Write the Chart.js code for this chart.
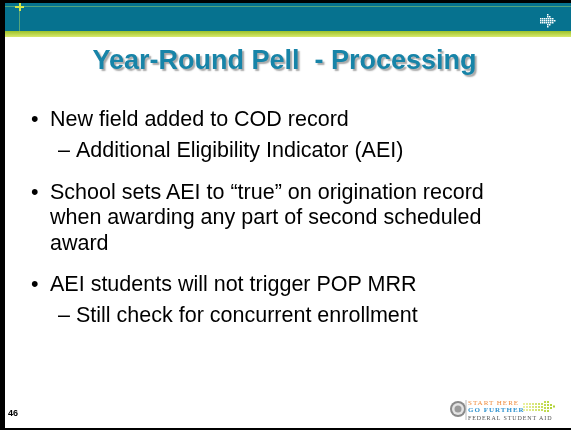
<!DOCTYPE html>
<html>
<head>
<meta charset="utf-8">
<script src="https://cdn.jsdelivr.net/npm/chart.js@4.4.0/dist/chart.umd.min.js"></script>
<style>
html, body { margin: 0; padding: 0; background: #fff; }
#slide { position: relative; width: 571px; height: 430px; overflow: hidden; font-family: "Liberation Sans", Arial, sans-serif; }
#slide canvas { position: absolute; left: 0; top: 0; }
.txt { position: absolute; white-space: pre; color: #000; }
.logo { font-family: "Liberation Serif", "DejaVu Serif", serif; letter-spacing: 1px; }
</style>
</head>
<body>
<div id="slide"><canvas id="slideChart" width="571" height="430"></canvas></div>
<script>
var titleText = "Year-Round Pell  - Processing";
var points = [
    { text: ["New field added to COD record"], subs: ["Additional Eligibility Indicator (AEI)"] },
    { text: ["School sets AEI to \u201ctrue\u201d on origination record", "when awarding any part of second scheduled", "award"], subs: [] },
    { text: ["AEI students will not trigger POP MRR"], subs: ["Still check for concurrent enrollment"] }
];
var pageNumber = "46";
var logoLines = ["START HERE", "GO FURTHER", "FEDERAL STUDENT AID"];

// layout (pixels)
var bodySize = 21.5;
var lineBase = [127, 158.5, 200, 225.5, 251, 292, 323];
var bulletX = 31, textX = 50, dashX = 58, subX = 76;

var slide = document.getElementById("slide");

// places a line of text so that its baseline sits at `base`
function addText(str, x, base, size, css) {
    var d = document.createElement("div");
    d.className = "txt";
    d.textContent = str;
    d.style.left = x + "px";
    d.style.fontSize = size + "px";
    d.style.lineHeight = size + "px";
    d.style.top = (base - 0.8465 * size) + "px";
    if (css) {
        for (var k in css) d.style[k] = css[k];
    }
    slide.appendChild(d);
    return d;
}

var n = 0;
points.forEach(function (p) {
    p.text.forEach(function (line, i) {
        if (i === 0) addText("\u2022", bulletX, lineBase[n], bodySize);
        addText(line, textX, lineBase[n], bodySize);
        n++;
    });
    p.subs.forEach(function (line) {
        addText("\u2013", dashX, lineBase[n], bodySize);
        addText(line, subX, lineBase[n], bodySize);
        n++;
    });
});

// page number
addText(pageNumber, 8, 417, 9, { fontWeight: "bold" });

// logo words
addText(logoLines[0], 468, 406, 7, { color: "#ef8a3a", fontFamily: "'Liberation Serif', serif", letterSpacing: "1px" });
addText(logoLines[1], 468, 413, 7, { color: "#2f93cf", fontWeight: "bold", fontFamily: "'Liberation Serif', serif", letterSpacing: "1px" });
addText(logoLines[2], 468, 420, 6, { color: "#555", fontFamily: "'Liberation Serif', serif", letterSpacing: "0.9px" });

var slideFrame = {
    id: "slideFrame",
    beforeDraw: function (chart) {
        var ctx = chart.ctx, w = chart.width, h = chart.height;
        ctx.save();
        ctx.fillStyle = "#06728f";
        ctx.fillRect(0, 0, w, 32);
        var g = ctx.createLinearGradient(0, 31, 0, 37);
        g.addColorStop(0, "#9cc22a");
        g.addColorStop(1, "#d9e96c");
        ctx.fillStyle = g;
        ctx.fillRect(0, 31, w, 6);

        // thin rules in the header
        ctx.fillStyle = "rgba(150,205,110,0.55)";
        ctx.fillRect(0, 6, w, 1);
        ctx.fillRect(19, 3, 1, 29);
        ctx.fillStyle = "#d4e64c";
        ctx.fillRect(15, 6, 9, 2);
        ctx.fillRect(19, 3, 2, 8);

        // dotted arrow icon
        ctx.fillStyle = "#fff";
        for (var yy = 14; yy <= 26; yy += 2) {
            var half = Math.abs(yy - 20);
            var x0 = 540, x1 = 555 - half;
            if (half > 3) x0 = 547;
            for (var xx = x0; xx < x1; xx += 2) ctx.fillRect(xx, yy, 1.5, 1.5);
        }

        // slide frame
        ctx.fillStyle = "#000";
        ctx.fillRect(0, 0, w, 3);
        ctx.fillRect(0, 0, 5, h);
        ctx.fillRect(0, h - 2, w, 2);
        ctx.restore();

        // title shadow
        ctx.shadowColor = "rgba(0,0,0,0.35)";
        ctx.shadowOffsetX = 2;
        ctx.shadowOffsetY = 2;
        ctx.shadowBlur = 1.5;
    },
    afterDraw: function (chart) {
        var ctx = chart.ctx;
        ctx.shadowColor = "transparent";
        ctx.shadowOffsetX = 0;
        ctx.shadowOffsetY = 0;
        ctx.shadowBlur = 0;
        ctx.save();
        // seal
        ctx.beginPath();
        ctx.arc(458, 409, 8, 0, Math.PI * 2);
        ctx.fillStyle = "#8a8a8a";
        ctx.fill();
        ctx.beginPath();
        ctx.arc(458, 409, 6, 0, Math.PI * 2);
        ctx.fillStyle = "#e4e4e4";
        ctx.fill();
        ctx.beginPath();
        ctx.arc(458, 409, 3.5, 0, Math.PI * 2);
        ctx.fillStyle = "#9a9a9a";
        ctx.fill();
        ctx.fillStyle = "#bbb";
        ctx.fillRect(465.5, 400, 1, 20);
        // pixel arrow
        for (var c = 0; c < 11; c++) {
            var x = 523 + c * 3;
            var rows = c < 7 ? [403, 406, 409] : (c < 9 ? [401, 404, 407, 410] : [404, 407]);
            if (c === 10) rows = [405.5];
            var t = c / 10;
            ctx.fillStyle = "rgb(" + Math.round(235 - 60 * t) + "," + Math.round(240 - 30 * t) + "," + Math.round(160 - 110 * t) + ")";
            rows.forEach(function (y) { ctx.fillRect(x, y, 2, 2); });
        }
        ctx.restore();
    }
};

new Chart(document.getElementById("slideChart"), {
    type: "scatter",
    data: { datasets: [] },
    options: {
        responsive: false,
        animation: false,
        devicePixelRatio: 1,
        layout: { padding: { left: 0, right: 2, top: 0, bottom: 0 } },
        scales: { x: { display: false }, y: { display: false } },
        plugins: {
            legend: { display: false },
            tooltip: { enabled: false },
            title: {
                display: true,
                text: titleText,
                color: "#1784a8",
                font: { family: "'Liberation Sans', Arial, sans-serif", size: 27, weight: "bold" },
                padding: { top: 45, bottom: 0 }
            }
        }
    },
    plugins: [slideFrame]
});
</script>
</body>
</html>
